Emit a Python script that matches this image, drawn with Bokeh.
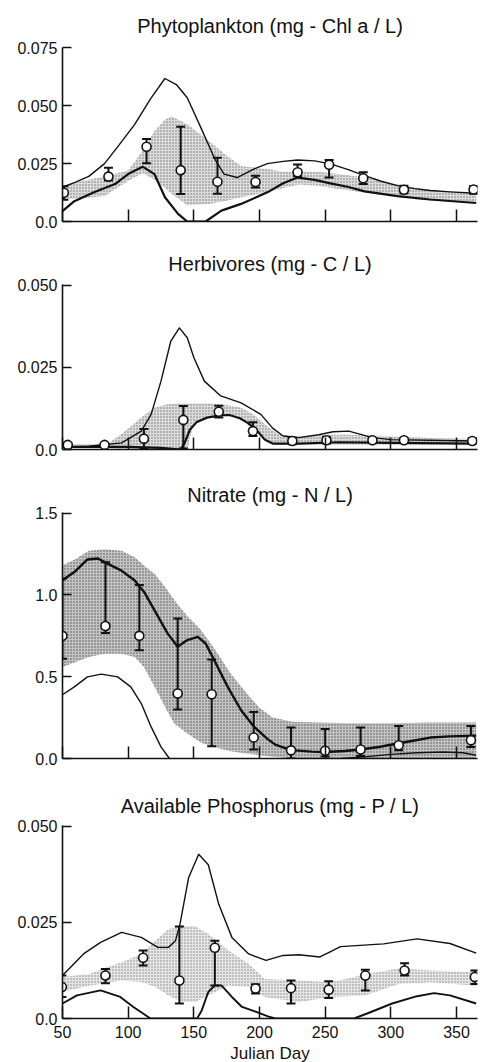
from bokeh.plotting import figure
from bokeh.layouts import column
from bokeh.models import Range1d, FixedTicker
from bokeh.embed import file_html
from bokeh.resources import INLINE

# ---------------- common axis data ----------------
x_ticks = [50, 100, 150, 200, 250, 300, 350]
x_tick_labels = ["50", "100", "150", "200", "250", "300", "350"]

# ---------------- Phytoplankton ----------------
p1_up_day = [50, 60, 70, 82, 93, 105, 117, 128, 137, 145, 155, 166, 173, 183, 196, 206, 218, 229, 242, 254, 267, 280, 292, 305, 318, 330, 345, 365]
p1_up_val = [0.0148, 0.017, 0.0195, 0.025, 0.033, 0.042, 0.053, 0.0618, 0.059, 0.0535, 0.041, 0.027, 0.0205, 0.019, 0.0227, 0.025, 0.026, 0.0266, 0.0262, 0.0249, 0.0225, 0.0198, 0.0175, 0.0155, 0.0142, 0.0134, 0.0128, 0.0122]
p1_lo_day = [50, 59, 74, 90, 100, 111, 120, 128, 138, 145, 159, 171, 186, 206, 218, 229, 242, 254, 267, 280, 305, 330, 365]
p1_lo_val = [0.0045, 0.0088, 0.0126, 0.0162, 0.0205, 0.0237, 0.0205, 0.0105, 0.0033, 0.0, 0.0, 0.0047, 0.0076, 0.0126, 0.0165, 0.019, 0.018, 0.0165, 0.015, 0.013, 0.011, 0.0095, 0.008]
p1_band_day = [50, 65, 82, 100, 111, 120, 128, 133, 145, 161, 175, 186, 206, 218, 230, 245, 260, 280, 300, 320, 340, 365]
p1_band_hi = [0.0155, 0.0175, 0.0195, 0.022, 0.0306, 0.039, 0.044, 0.0455, 0.042, 0.035, 0.0285, 0.024, 0.0227, 0.0215, 0.0215, 0.0215, 0.0205, 0.019, 0.0165, 0.0145, 0.013, 0.0122]
p1_band_lo = [0.0095, 0.010, 0.011, 0.0175, 0.021, 0.018, 0.0146, 0.012, 0.007, 0.0076, 0.009, 0.0105, 0.0126, 0.0145, 0.016, 0.0155, 0.014, 0.0125, 0.011, 0.0095, 0.0088, 0.0082]
p1_obs_day = [51, 85, 114, 140, 168, 197, 229, 253, 279, 310, 363]
p1_obs_val = [0.0124, 0.0194, 0.0323, 0.0222, 0.0172, 0.0171, 0.0213, 0.0245, 0.0187, 0.0137, 0.0138]
p1_err_hi = [0.0152, 0.0232, 0.0357, 0.041, 0.0276, 0.0198, 0.0246, 0.0266, 0.0213, 0.0155, 0.0152]
p1_err_lo = [0.0094, 0.0177, 0.0252, 0.0119, 0.012, 0.0147, 0.0196, 0.019, 0.0162, 0.0122, 0.012]

# ---------------- Herbivores ----------------
p2_up_day = [50, 70, 95, 110, 117.5, 125, 132.5, 139, 145, 150, 158, 170.5, 186, 201, 210, 218, 230, 245, 256, 268, 286, 300, 330, 365]
p2_up_val = [0.0008, 0.001, 0.002, 0.0056, 0.0107, 0.0208, 0.033, 0.037, 0.034, 0.028, 0.0208, 0.0163, 0.0142, 0.0107, 0.0065, 0.0041, 0.0036, 0.0045, 0.0054, 0.0056, 0.0036, 0.003, 0.0028, 0.0026]
p2_lo_day = [50, 100, 125, 140, 143, 147, 152, 160, 170, 177, 185, 191, 198, 204, 210, 230, 260, 300, 365]
p2_lo_val = [0.0008, 0.0008, 0.0005, 0.0, 0.002, 0.006, 0.0083, 0.0097, 0.0104, 0.0105, 0.0095, 0.0081, 0.0058, 0.003, 0.0018, 0.0018, 0.0022, 0.002, 0.0018]
p2_band_day = [50, 75, 85, 95, 110, 120, 130, 140, 145, 150, 166, 176, 186, 196, 206, 215, 230, 250, 270, 300, 330, 365]
p2_band_hi = [0.0015, 0.0015, 0.002, 0.0047, 0.0097, 0.0127, 0.0138, 0.014, 0.014, 0.014, 0.014, 0.0135, 0.0127, 0.0105, 0.007, 0.0045, 0.004, 0.0045, 0.0045, 0.004, 0.0035, 0.0032]
p2_band_lo = [0.0005, 0.0005, 0.0005, 0.0, 0.0, 0.0, 0.0, 0.0, 0.0, 0.0083, 0.0102, 0.0105, 0.0095, 0.0065, 0.002, 0.0015, 0.0015, 0.0015, 0.0015, 0.0015, 0.0015, 0.0015]
p2_obs_day = [54, 82, 112, 142, 169, 195, 225, 251, 286, 310, 362]
p2_obs_val = [0.0014, 0.0014, 0.0033, 0.009, 0.0115, 0.0056, 0.0026, 0.0028, 0.0028, 0.0028, 0.0026]
p2_err_hi = [0.002, 0.002, 0.0062, 0.0132, 0.0133, 0.0083, 0.0036, 0.0038, 0.0034, 0.0034, 0.0034]
p2_err_lo = [0.0008, 0.0008, 0.0003, 0.0003, 0.0097, 0.0041, 0.0016, 0.0018, 0.0022, 0.0022, 0.0018]

# ---------------- Nitrate ----------------
p3_main_day = [50, 59, 69, 77, 84.6, 94.6, 104.8, 112, 120, 130, 137.7, 145, 153, 159, 165.6, 175.8, 186, 196, 206, 212, 224, 240, 250, 265, 277, 292, 305, 318, 330, 345, 365]
p3_main_val = [1.09, 1.14, 1.217, 1.223, 1.19, 1.15, 1.09, 1.02, 0.907, 0.765, 0.683, 0.724, 0.744, 0.703, 0.60, 0.438, 0.295, 0.193, 0.12, 0.085, 0.051, 0.042, 0.04, 0.046, 0.055, 0.072, 0.092, 0.11, 0.128, 0.135, 0.14]
p3_low_day = [50, 59, 69, 79.5, 92, 102, 110, 117.5, 125, 131.4]
p3_low_val = [0.39, 0.438, 0.499, 0.516, 0.499, 0.438, 0.336, 0.193, 0.071, 0.0]
p3_low2_day = [262, 280, 300, 320, 340, 355, 365]
p3_low2_val = [0.0, 0.01, 0.025, 0.035, 0.04, 0.035, 0.02]
p3_band_day = [50, 60, 70, 82, 95, 105, 112, 120, 128, 135, 145, 155, 165, 178, 190, 200, 210, 225, 245, 270, 300, 330, 365]
p3_band_hi = [1.18, 1.22, 1.27, 1.28, 1.27, 1.23, 1.18, 1.13, 1.05, 0.97, 0.87, 0.79, 0.68, 0.52, 0.40, 0.31, 0.25, 0.225, 0.22, 0.215, 0.215, 0.22, 0.22]
p3_band_lo = [0.56, 0.59, 0.62, 0.64, 0.64, 0.62, 0.56, 0.44, 0.316, 0.214, 0.153, 0.10, 0.07, 0.045, 0.03, 0.02, 0.01, 0, 0, 0, 0, 0, 0]
p3_obs_day = [50, 82.7, 108.5, 137.7, 163.6, 195.6, 224, 250, 277, 306, 361]
p3_obs_val = [0.75, 0.81, 0.75, 0.397, 0.393, 0.128, 0.05, 0.047, 0.055, 0.081, 0.112]
p3_err_hi = [1.10, 1.20, 1.06, 0.856, 0.605, 0.285, 0.19, 0.18, 0.19, 0.198, 0.198]
p3_err_lo = [0.61, 0.768, 0.662, 0.30, 0.075, 0.055, 0.0, 0.012, 0.015, 0.05, 0.07]

# ---------------- Available Phosphorus ----------------
p4_up_day = [50, 66, 79, 95, 110, 122.6, 130.7, 136, 139.5, 146, 153.7, 161, 169, 179, 191.8, 205, 218, 230, 246, 253, 261.6, 294.5, 320, 345, 365]
p4_up_val = [0.0112, 0.0168, 0.0198, 0.0224, 0.0211, 0.0185, 0.0185, 0.0202, 0.0246, 0.0366, 0.0427, 0.040, 0.0297, 0.0211, 0.0168, 0.0151, 0.0164, 0.0166, 0.016, 0.0172, 0.0187, 0.0194, 0.0207, 0.0195, 0.017]
p4_lo_day = [50, 61, 79, 94, 104, 117, 152.5, 156, 161, 166, 171, 179, 186.7, 197, 207, 212, 272, 282, 301, 320, 333, 345, 365]
p4_lo_val = [0.0039, 0.006, 0.0073, 0.0056, 0.003, 0.0, 0.0, 0.0021, 0.0069, 0.0086, 0.0086, 0.0056, 0.003, 0.0018, 0.0005, 0.0, 0.0, 0.0013, 0.0039, 0.0058, 0.0066, 0.006, 0.0039]
p4_band_day = [50, 70, 95, 110, 120.6, 130.7, 141, 151, 161, 176.5, 191.8, 204, 230, 255, 280.6, 306, 331, 365]
p4_band_hi = [0.0108, 0.0116, 0.0146, 0.0168, 0.0202, 0.0233, 0.0241, 0.024, 0.022, 0.0177, 0.0142, 0.0103, 0.0099, 0.0094, 0.0115, 0.013, 0.0125, 0.012]
p4_band_lo = [0.0069, 0.0085, 0.0099, 0.0095, 0.0082, 0.006, 0.0043, 0.0043, 0.006, 0.0086, 0.0082, 0.0056, 0.0043, 0.0056, 0.006, 0.009, 0.0094, 0.0085]
p4_obs_day = [49.5, 82.7, 111.4, 139, 166, 197, 224, 252.7, 280.6, 310.5, 364]
p4_obs_val = [0.0082, 0.0112, 0.0158, 0.0099, 0.0184, 0.0078, 0.0079, 0.0075, 0.0112, 0.0125, 0.0108]
p4_err_hi = [0.0112, 0.0129, 0.0177, 0.0239, 0.0202, 0.0089, 0.0099, 0.0097, 0.0127, 0.0144, 0.0125]
p4_err_lo = [0.0056, 0.0092, 0.0138, 0.0039, 0.0086, 0.0065, 0.0039, 0.0053, 0.0073, 0.0112, 0.009]

FONT = "Liberation Sans"
INK = "#111111"


def make_panel(title, y_end, y_ticks, y_labels, top, fh, bottom, title_gap, show_x):
    p = figure(frame_width=415, frame_height=fh, min_border_left=62, min_border_right=6,
               min_border_top=top, min_border_bottom=bottom,
               x_range=Range1d(50, 366), y_range=Range1d(0, y_end),
               toolbar_location=None, output_backend="svg", title=title)
    p.outline_line_color = None
    p.xgrid.visible = False
    p.ygrid.visible = False
    p.background_fill_color = "white"
    p.border_fill_color = "white"
    p.title.align = "center"
    p.title.text_font = FONT
    p.title.text_font_size = "20px"
    p.title.text_font_style = "normal"
    p.title.text_color = INK
    p.title.standoff = title_gap

    for ax in (p.xaxis[0], p.yaxis[0]):
        ax.axis_line_width = 1.6
        ax.axis_line_color = INK
        ax.major_tick_line_width = 1.5
        ax.major_tick_line_color = INK
        ax.major_tick_out = 0
        ax.minor_tick_out = 0
        ax.minor_tick_in = 0
        ax.major_label_text_font = FONT
        ax.major_label_text_color = INK
        ax.major_label_text_font_size = "16px"

    p.yaxis.ticker = FixedTicker(ticks=y_ticks)
    p.yaxis.major_label_overrides = dict(zip(y_ticks, y_labels))
    p.yaxis.major_tick_in = 9
    p.yaxis.major_label_standoff = 5

    p.xaxis.ticker = FixedTicker(ticks=x_ticks)
    p.xaxis.major_tick_in = 12
    if show_x:
        p.xaxis.major_label_overrides = dict(zip(x_ticks, x_tick_labels))
        p.xaxis.major_label_standoff = 7
        p.xaxis.axis_label = "Julian Day"
        p.xaxis.axis_label_text_font = FONT
        p.xaxis.axis_label_text_font_size = "17px"
        p.xaxis.axis_label_text_font_style = "normal"
        p.xaxis.axis_label_text_color = INK
        p.xaxis.axis_label_standoff = 3
    else:
        p.xaxis.major_label_text_color = None
        p.xaxis.major_label_standoff = 0
    return p


def add_band(p, day, lo, hi, fill, dots):
    p.varea(x=day, y1=lo, y2=hi, fill_color=fill, fill_alpha=1.0,
            hatch_pattern="dot", hatch_color=dots, hatch_scale=3, hatch_weight=1.2, hatch_alpha=0.9)


def add_obs(p, day, val, hi, lo):
    p.segment(x0=day, y0=lo, x1=day, y1=hi, line_width=2, line_color=INK)
    p.scatter(x=day, y=hi, marker="dash", size=9, line_width=2, line_color=INK)
    p.scatter(x=day, y=lo, marker="dash", size=9, line_width=2, line_color=INK)
    p.scatter(x=day, y=val, marker="circle", size=9, fill_color="white", line_color=INK, line_width=1.6)


# Panel 1
p1 = make_panel("Phytoplankton (mg - Chl a / L)", 0.0752, [0, 0.025, 0.05, 0.075], ["0.0", "0.025", "0.050", "0.075"], 47, 174, 20, 22, False)
add_band(p1, p1_band_day, p1_band_lo, p1_band_hi, "#dcdcdc", "#666666")
p1.line(p1_up_day, p1_up_val, line_width=1.4, line_color=INK, line_join="round")
p1.line(p1_lo_day, p1_lo_val, line_width=2.2, line_color=INK, line_join="round")
add_obs(p1, p1_obs_day, p1_obs_val, p1_err_hi, p1_err_lo)

# Panel 2
p2 = make_panel("Herbivores (mg - C / L)", 0.0502, [0, 0.025, 0.05], ["0.0", "0.025", "0.050"], 43, 165, 22, 19, False)
add_band(p2, p2_band_day, p2_band_lo, p2_band_hi, "#dcdcdc", "#666666")
p2.line(p2_up_day, p2_up_val, line_width=1.4, line_color=INK, line_join="round")
p2.line(p2_lo_day, p2_lo_val, line_width=2.2, line_color=INK, line_join="round")
add_obs(p2, p2_obs_day, p2_obs_val, p2_err_hi, p2_err_lo)

# Panel 3
p3 = make_panel("Nitrate (mg - N / L)", 1.504, [0, 0.5, 1.0, 1.5], ["0.0", "0.5", "1.0", "1.5"], 41, 246, 24, 14, False)
add_band(p3, p3_band_day, p3_band_lo, p3_band_hi, "#c4c4c4", "#444444")
p3.line(p3_main_day, p3_main_val, line_width=2.4, line_color=INK, line_join="round")
p3.line(p3_low_day, p3_low_val, line_width=1.4, line_color=INK, line_join="round")
p3.line(p3_low2_day, p3_low2_val, line_width=1.4, line_color=INK, line_join="round")
add_obs(p3, p3_obs_day, p3_obs_val, p3_err_hi, p3_err_lo)

# Panel 4
p4 = make_panel("Available Phosphorus (mg - P / L)", 0.0502, [0, 0.025, 0.05], ["0.0", "0.025", "0.050"], 43, 193, 44, 18, True)
add_band(p4, p4_band_day, p4_band_lo, p4_band_hi, "#e6e6e6", "#777777")
p4.line(p4_up_day, p4_up_val, line_width=1.4, line_color=INK, line_join="round")
p4.line(p4_lo_day, p4_lo_val, line_width=1.9, line_color=INK, line_join="round")
add_obs(p4, p4_obs_day, p4_obs_val, p4_err_hi, p4_err_lo)

layout = column(p1, p2, p3, p4, spacing=0)
open("out.html", "w").write(file_html(layout, INLINE))
